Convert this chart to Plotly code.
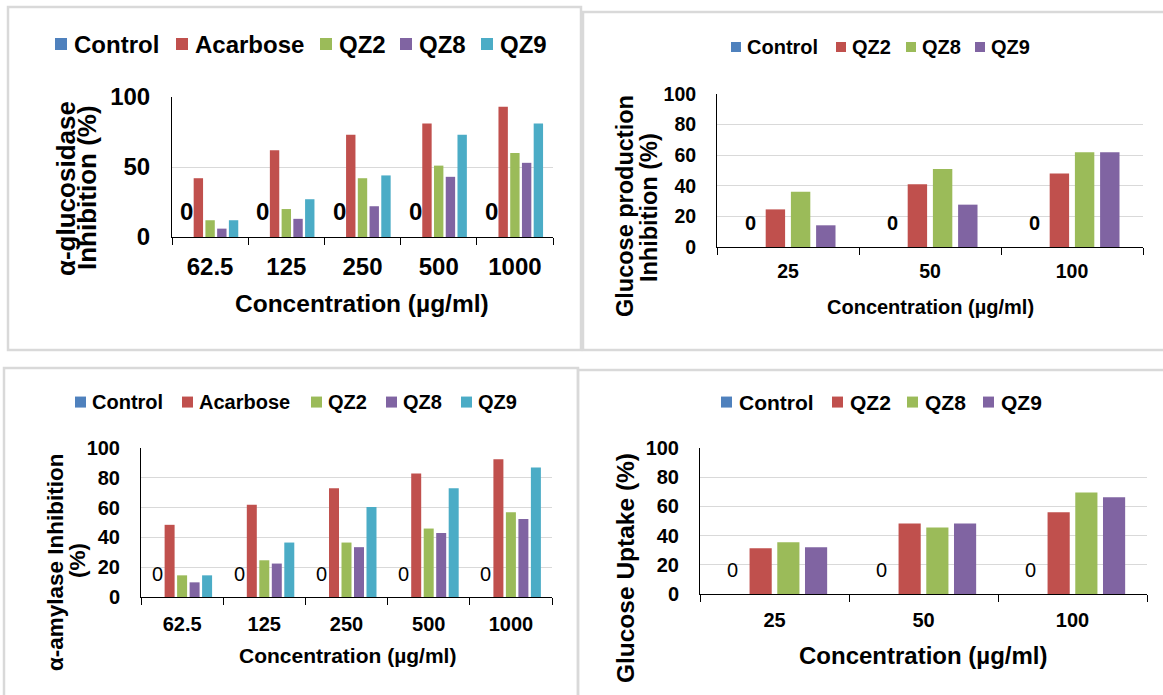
import plotly.graph_objects as go

W, H = 1163, 695
FONT = "Liberation Sans, Arial, sans-serif"

# ---------------- data ----------------
conc_enzyme = ["62.5", "125", "250", "500", "1000"]
conc_cell = ["25", "50", "100"]

# alpha-glucosidase inhibition (%)
glu_control = [0, 0, 0, 0, 0]
glu_acarbose = [42, 62, 73, 81, 93]
glu_qz2 = [12, 20, 42, 51, 60]
glu_qz8 = [6, 13, 22, 43, 53]
glu_qz9 = [12, 27, 44, 73, 81]

# glucose production inhibition (%)
gp_control = [0, 0, 0]
gp_qz2 = [24.6, 41, 48]
gp_qz8 = [36.2, 51, 62]
gp_qz9 = [14.2, 27.7, 62]

# alpha-amylase inhibition (%)
amy_control = [0, 0, 0, 0, 0]
amy_acarbose = [48.5, 62, 73, 83, 92.5]
amy_qz2 = [14.6, 24.7, 36.6, 46, 57]
amy_qz8 = [9.9, 22.5, 33.5, 43, 52.4]
amy_qz9 = [14.6, 36.6, 60.4, 73, 87]

# glucose uptake (%)
gu_control = [0, 0, 0]
gu_qz2 = [31.4, 48.3, 56]
gu_qz8 = [35.5, 45.6, 69.5]
gu_qz9 = [32.1, 48.3, 66.3]

# ---------------- styles ----------------
BLUE, RED, GREEN, PURPLE, CYAN = "#4F81BD", "#C0504D", "#9BBB59", "#8064A2", "#4BACC6"

# the photographed page shows the figure slightly squeezed vertically:
# screen_y = Y_OFF + Y_SCALE * figure_y  -> positions below are given in screen pixels
Y_OFF, Y_SCALE = 14.0, 0.961


def px(x):
    return x / W


def py(y):
    return 1 - ((y - Y_OFF) / Y_SCALE) / H


def dy(d):
    return d / Y_SCALE


panels = [
    dict(ax="", cats=conc_enzyme,
         series=[("Control", glu_control, BLUE), ("Acarbose", glu_acarbose, RED),
                 ("QZ2", glu_qz2, GREEN), ("QZ8", glu_qz8, PURPLE), ("QZ9", glu_qz9, CYAN)],
         gap=0.23, groupgap=0.2,
         dom=(172, 553, 97, 237), dtick=50, tick=24, xstand=8,
         xtitle=("Concentration (µg/ml)", 362, 303, 24.5),
         ytitle=[("α-glucosidase", 66, 189), ("Inhibition (%)", 87, 188)], ysize=26,
         leg_y=44, leg_x=[55, 176, 320, 400, 481], sq=12, lgap=5, leg_font=24,
         zero_font=24, zero_bold=True, zero_shift=25),
    dict(ax="2", cats=conc_cell,
         series=[("Control", gp_control, BLUE), ("QZ2", gp_qz2, RED),
                 ("QZ8", gp_qz8, GREEN), ("QZ9", gp_qz9, PURPLE)],
         gap=0.29, groupgap=0.23,
         dom=(717, 1143, 94, 247), dtick=20, tick=19.5, xstand=7,
         xtitle=("Concentration (µg/ml)", 930, 307, 20),
         ytitle=[("Glucose production", 625, 206), ("Inhibition (%)", 649, 207)], ysize=23.5,
         leg_y=47, leg_x=[731, 836, 906, 975], sq=10, lgap=4, leg_font=20,
         zero_font=20, zero_bold=True, zero_shift=23),
    dict(ax="3", cats=conc_enzyme,
         series=[("Control", amy_control, BLUE), ("Acarbose", amy_acarbose, RED),
                 ("QZ2", amy_qz2, GREEN), ("QZ8", amy_qz8, PURPLE), ("QZ9", amy_qz9, CYAN)],
         gap=0.24, groupgap=0.2,
         dom=(141, 552, 448, 597), dtick=20, tick=20, xstand=9,
         xtitle=("Concentration (µg/ml)", 347, 655, 21),
         ytitle=[("α-amylase Inhibition", 55, 562), ("(%)", 77, 561)], ysize=22.5,
         leg_y=402, leg_x=[75, 182, 311, 386, 461], sq=11, lgap=4, leg_font=20,
         zero_font=20, zero_bold=False, zero_shift=22),
    dict(ax="4", cats=conc_cell,
         series=[("Control", gu_control, BLUE), ("QZ2", gu_qz2, RED),
                 ("QZ8", gu_qz8, GREEN), ("QZ9", gu_qz9, PURPLE)],
         gap=0.256, groupgap=0.2,
         dom=(700, 1147, 448, 594), dtick=20, tick=20, xstand=8,
         xtitle=("Concentration (µg/ml)", 923, 655, 24),
         ytitle=[("Glucose Uptake (%)", 625, 568)], ysize=24.5,
         leg_y=402, leg_x=[721, 832, 907, 983], sq=11, lgap=5, leg_font=21,
         zero_font=20, zero_bold=False, zero_shift=23),
]

fig = go.Figure()
annotations = []
shapes = []

for p in panels:
    xa, ya = "x" + p["ax"], "y" + p["ax"]
    n = len(p["series"])
    group = 1 - p["gap"]
    slot = group / n
    bar_w = slot * (1 - p["groupgap"])
    for j, (name, vals, col) in enumerate(p["series"]):
        fig.add_trace(go.Bar(
            x=p["cats"], y=vals, name=name, marker=dict(color=col, line=dict(width=0)),
            width=bar_w, offset=-group / 2 + j * slot + (slot - bar_w) / 2,
            xaxis=xa, yaxis=ya, showlegend=False,
            hovertemplate=name + ": %{y}<extra>%{x}</extra>"))
    l, r, t, b = p["dom"]
    xkey, ykey = "xaxis" + p["ax"], "yaxis" + p["ax"]
    fig.layout[xkey] = dict(
        domain=[px(l), px(r)], anchor=ya, type="category",
        showline=True, linecolor="#000000", linewidth=1,
        ticks="outside", tickson="boundaries", ticklen=7, tickcolor="#000000", tickwidth=1,
        showgrid=False, ticklabelstandoff=p["xstand"],
        tickfont=dict(family=FONT, size=p["tick"], color="#000000", weight="bold"),
        fixedrange=True)
    fig.layout[ykey] = dict(
        domain=[py(b), py(t)], anchor=xa, range=[0, 100], dtick=p["dtick"], tick0=0,
        showline=True, linecolor="#000000", linewidth=1, ticks="",
        showgrid=True, gridcolor="#D9D9D9", gridwidth=1, zeroline=False,
        ticklabelstandoff=16,
        tickfont=dict(family=FONT, size=p["tick"], color="#000000", weight="bold"),
        fixedrange=True)

    # data labels for the zero-valued control bars
    ctrl_off = -group / 2 + slot / 2
    ctrl_vals = p["series"][0][1]
    for i, v in enumerate(ctrl_vals):
        annotations.append(dict(
            x=i + ctrl_off, y=v, xref=xa, yref=ya, text=f"{v:g}", showarrow=False,
            xanchor="center", yanchor="middle", yshift=dy(p["zero_shift"]),
            font=dict(family=FONT, size=p["zero_font"], color="#000000",
                      weight="bold" if p["zero_bold"] else "normal")))

    # axis titles
    txt, tx, ty, ts = p["xtitle"]
    annotations.append(dict(
        x=px(tx), y=py(ty), xref="paper", yref="paper", text=txt, showarrow=False,
        xanchor="center", yanchor="middle",
        font=dict(family=FONT, size=ts, color="#000000", weight="bold")))
    for txt, tx, ty in p["ytitle"]:
        annotations.append(dict(
            x=px(tx), y=py(ty), xref="paper", yref="paper", text=txt, showarrow=False,
            xanchor="center", yanchor="middle", textangle=-90,
            font=dict(family=FONT, size=p["ysize"], color="#000000", weight="bold")))

    # legend
    s = p["sq"]
    for (name, vals, col), lx in zip(p["series"], p["leg_x"]):
        shapes.append(dict(
            type="rect", xref="paper", yref="paper",
            x0=px(lx), x1=px(lx + s), y0=py(p["leg_y"] + s / 2), y1=py(p["leg_y"] - s / 2),
            fillcolor=col, line=dict(width=0)))
        annotations.append(dict(
            x=px(lx + s + p["lgap"]), y=py(p["leg_y"]), xref="paper", yref="paper",
            text=name, showarrow=False, xanchor="left", yanchor="middle",
            font=dict(family=FONT, size=p["leg_font"], color="#000000", weight="bold")))

# panel frames
BORDER = "#D9D9D9"
frames = [(8, 7, 581, 350), (583, 12, 1175, 350), (4, 368, 578, 710), (578, 370, 1175, 710)]
for x0, y0, x1, y1 in frames:
    shapes.append(dict(type="rect", xref="paper", yref="paper",
                       x0=px(x0), x1=px(x1), y0=py(y1), y1=py(y0),
                       line=dict(color=BORDER, width=2.5), fillcolor="rgba(0,0,0,0)",
                       layer="below"))

fig.update_layout(
    width=W, height=H, margin=dict(l=0, r=0, t=0, b=0),
    paper_bgcolor="#FFFFFF", plot_bgcolor="#FFFFFF",
    barmode="group",
    showlegend=False, annotations=annotations, shapes=shapes,
    font=dict(family=FONT, color="#000000"),
)

fig.write_html("out.html", config={"displayModeBar": False},
               post_script="document.body.style.margin='0';document.body.style.overflow='hidden';")
